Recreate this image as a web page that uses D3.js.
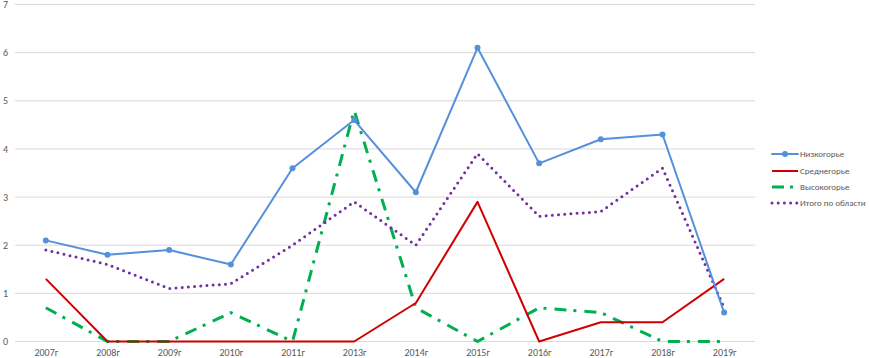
<!DOCTYPE html>
<html><head><meta charset="utf-8">
<script src="https://cdn.jsdelivr.net/npm/d3@7"></script>
<style>body{margin:0;background:#fff;} text{font-family:Carlito,Lato,"Liberation Sans",sans-serif;fill:#595959;}</style>
</head><body><svg id="c" width="869" height="358"></svg>
<script>
const categories = ["2007г","2008г","2009г","2010г","2011г","2013г","2014г","2015г","2016г","2017г","2018г","2019г"];
const low   = [2.1,1.8,1.9,1.6,3.6,4.6,3.1,6.1,3.7,4.2,4.3,0.6];
const mid   = [1.3,0,0,0,0,0,0.8,2.9,0,0.4,0.4,1.3];
const high  = [0.7,0,0,0.6,0,4.8,0.7,0,0.7,0.6,0,0];
const total = [1.9,1.6,1.1,1.2,2.0,2.9,2.0,3.9,2.6,2.7,3.6,0.7];
const yTicks = [0,1,2,3,4,5,6,7];
const seriesNames = ["Низкогорье","Среднегорье","Высокогорье","Итого по области"];

const svg = d3.select("#c");
const x = d3.scalePoint().domain(categories).range([15,755]).padding(0.5);
const y = d3.scaleLinear().domain([0,7]).range([341.5,4.5]);

// gridlines
svg.append("g").selectAll("line").data(yTicks).join("line")
  .attr("x1",15).attr("x2",755).attr("y1",d=>y(d)).attr("y2",d=>y(d))
  .attr("stroke","#d9d9d9").attr("stroke-width",1);

// y axis labels
const ya = d3.axisLeft(y).tickValues(yTicks).tickFormat(d3.format("d")).tickSize(0).tickPadding(0);
const gy = svg.append("g").attr("transform","translate(8,0)").call(ya);
gy.select(".domain").remove();
gy.selectAll("text").attr("font-size","10px").style("fill","#595959").attr("dy","0.32em");

// x axis labels
const xa = d3.axisBottom(x).tickSize(0).tickPadding(0);
const gx = svg.append("g").attr("transform","translate(0,349)").call(xa);
gx.select(".domain").remove();
gx.selectAll("text").attr("font-size","10px").style("fill","#595959").attr("dy","0.71em");

const styles = [
  {data:low, color:"#5590DB", w:2, dash:null, cap:"round", marker:true},
  {data:mid, color:"#D00000", w:2, dash:null, cap:"butt", marker:false},
  {data:high, color:"#00B050", w:3, dash:"12 7 3 8", cap:"butt", marker:false},
  {data:total, color:"#7030A0", w:3, dash:"0 6.2", cap:"round", marker:false}
];
const line = d3.line().x((d,i)=>x(categories[i])).y(d=>y(d));
[2,1,3,0].forEach(k=>{
  const s = styles[k];
  const p = svg.append("path").datum(s.data).attr("d",line)
    .attr("fill","none").attr("stroke",s.color).attr("stroke-width",s.w)
    .attr("stroke-linecap",s.cap).attr("stroke-linejoin","round");
  if(s.dash) p.attr("stroke-dasharray",s.dash);
  if(s.marker){
    svg.append("g").selectAll("circle").data(s.data).join("circle")
      .attr("cx",(d,i)=>x(categories[i])).attr("cy",d=>y(d)).attr("r",3)
      .attr("fill",s.color);
  }
});

// legend
const ly = [154,171,187,203];
const lg = svg.append("g");
seriesNames.forEach((n,i)=>{
  const s = styles[i];
  const g = lg.append("g");
  if(i===2){
    g.append("line").attr("x1",772).attr("x2",784).attr("y1",ly[i]).attr("y2",ly[i])
      .attr("stroke",s.color).attr("stroke-width",3);
    g.append("line").attr("x1",790).attr("x2",793).attr("y1",ly[i]).attr("y2",ly[i])
      .attr("stroke",s.color).attr("stroke-width",3);
  } else {
    const l = g.append("line").attr("x1",772).attr("x2",798).attr("y1",ly[i]).attr("y2",ly[i])
      .attr("stroke",s.color).attr("stroke-width",s.w).attr("stroke-linecap",s.cap);
    if(s.dash) l.attr("stroke-dasharray",s.dash);
    if(s.marker) g.append("circle").attr("cx",785).attr("cy",ly[i]).attr("r",3).attr("fill",s.color);
  }
  g.append("text").attr("x",800).attr("y",ly[i]).attr("dy","0.35em").attr("font-size","9px").text(n);
});
</script></body></html>
